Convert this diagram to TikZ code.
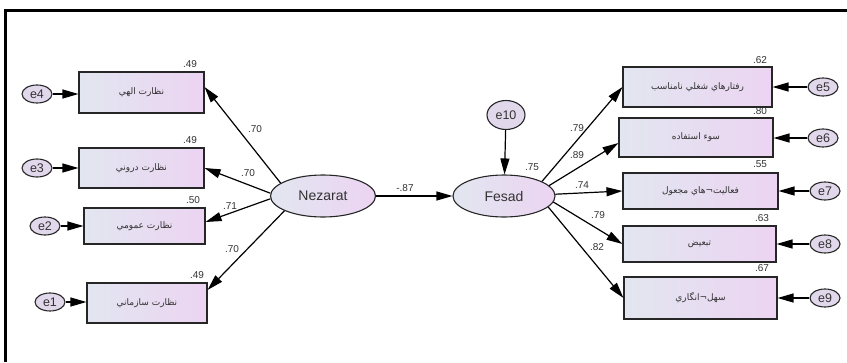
\documentclass[tikz,border=0pt]{standalone}
\usepackage{fontspec}
\setmainfont{Liberation Sans}
\newfontfamily\arabicfont[Script=Arabic]{DejaVu Sans}
\TeXXeTstate=1
\usetikzlibrary{arrows.meta,shapes.geometric}
\definecolor{boxL}{RGB}{226,230,240}
\definecolor{boxR}{RGB}{236,212,242}
\definecolor{errF}{RGB}{226,216,236}
\definecolor{txt}{RGB}{50,50,50}
\begin{document}
\begin{tikzpicture}[x=1pt,y=-1pt,
  obsbox/.style={draw=black!85, line width=1.1pt, left color=boxL, right color=boxR,
    inner sep=0pt, text=txt, font=\arabicfont\fontsize{9}{10}\selectfont},
  latent/.style={ellipse, draw=black!85, line width=1.1pt, left color=boxL, right color=boxR,
    minimum width=105pt, minimum height=42pt, inner sep=0pt, text=txt, font=\fontsize{14}{16}\selectfont},
  errnode/.style={ellipse, draw=black!85, line width=1.1pt, fill=errF, minimum width=30pt,
    minimum height=18pt, inner sep=0pt, text=txt, font=\fontsize{12.5}{14}\selectfont},
  val/.style={text=txt, inner sep=0pt, font=\fontsize{10}{12}\selectfont},
  arr/.style={line width=1.2pt, -{Triangle[length=16pt,width=9pt]}}]
\useasboundingbox (0,0) rectangle (847,362);
\fill[white] (0,0) rectangle (847,362);
\draw[line width=3pt] (5.5,362) -- (5.5,10.5) -- (847,10.5);

% latent variables
\node[latent] (nez) at (323,196) {Nezarat};
\node[latent, minimum width=102pt] (fes) at (504,196) {Fesad};
\node[errnode, minimum width=38pt, minimum height=29pt] (e10) at (506,115) {e10};

% left observed
\node[obsbox, minimum width=125pt, minimum height=41pt] (b1) at (141.5,92.5) {\beginR نظارت الهي\endR};
\node[obsbox, minimum width=125pt, minimum height=40pt] (b2) at (141.5,168) {\beginR نظارت دروني\endR};
\node[obsbox, minimum width=121pt, minimum height=36pt] (b3) at (144.5,226) {\beginR نظارت عمومي\endR};
\node[obsbox, minimum width=120pt, minimum height=40pt] (b4) at (147,303) {\beginR نظارت سازماني\endR};

% right observed
\node[obsbox, minimum width=149pt, minimum height=40pt] (b5) at (697.5,87) {\beginR رفتارهاي شغلي نامناسب\endR};
\node[obsbox, minimum width=154pt, minimum height=39pt] (b6) at (696,137.5) {\beginR سوء استفاده\endR};
\node[obsbox, minimum width=155pt, minimum height=36pt] (b7) at (700.5,191) {\beginR فعاليت¬هاي مجعول\endR};
\node[obsbox, minimum width=153pt, minimum height=36pt] (b8) at (699.5,244) {\beginR تبعيض\endR};
\node[obsbox, minimum width=153pt, minimum height=42pt] (b9) at (700.5,298) {\beginR سهل¬انگاري\endR};

% error terms
\node[errnode] (e4) at (37,94) {e4};
\node[errnode] (e3) at (37,168) {e3};
\node[errnode] (e2) at (45,226) {e2};
\node[errnode] (e1) at (50,302) {e1};
\node[errnode] (e5) at (823,87) {e5};
\node[errnode] (e6) at (823,138) {e6};
\node[errnode] (e7) at (825,191) {e7};
\node[errnode] (e8) at (825,244) {e8};
\node[errnode] (e9) at (825,298) {e9};

% connectors
\draw[arr] (e4) -- (e4 -| b1.west);
\draw[arr] (e3) -- (e3 -| b2.west);
\draw[arr] (e2) -- (e2 -| b3.west);
\draw[arr] (e1) -- (e1 -| b4.west);
\draw[arr] (e5) -- (e5 -| b5.east);
\draw[arr] (e6) -- (e6 -| b6.east);
\draw[arr] (e7) -- (e7 -| b7.east);
\draw[arr] (e8) -- (e8 -| b8.east);
\draw[arr] (e9) -- (e9 -| b9.east);
\draw[arr] (e10) -- (fes);
\draw[arr] (nez) -- (fes);
\draw[arr] (nez.163) -- ([yshift=5.5pt]b1.east);
\draw[arr] (nez.177) -- (b2.east);
\draw[arr] (nez.183) -- ([yshift=4pt]b3.east);
\draw[arr] (nez.201) -- ([yshift=13pt]b4.east);
\draw[arr] (fes.21) -- (b5.west);
\draw[arr] (fes.13) -- ([yshift=-5.5pt]b6.west);
\draw[arr] (fes.2) -- (b7.west);
\draw[arr] (fes.353) -- (b8.west);
\draw[arr] (fes.346) -- (b9.west);

% values
\node[val] (r1) at (190,64) {.49};
\node[val] (r2) at (190,140) {.49};
\node[val] (r3) at (193,200) {.50};
\node[val] (r4) at (197,275) {.49};
\node[val] (r5) at (760,60) {.62};
\node[val] (r6) at (760,111) {.80};
\node[val] (r7) at (760,164) {.55};
\node[val] (r8) at (762,218) {.63};
\node[val] (r9) at (762,268) {.67};
\node[val] (r10) at (532,167) {.75};
\node[val] (p0) at (405,188) {-.87};
\node[val] (p1) at (255,129) {.70};
\node[val] (p2) at (248,173) {.70};
\node[val] (p3) at (230,206) {.71};
\node[val] (p4) at (232,249) {.70};
\node[val] (p5) at (577,128) {.79};
\node[val] (p6) at (577,155) {.89};
\node[val] (p7) at (582,185) {.74};
\node[val] (p8) at (598,215) {.79};
\node[val] (p9) at (597,247) {.82};
\end{tikzpicture}
\end{document}
